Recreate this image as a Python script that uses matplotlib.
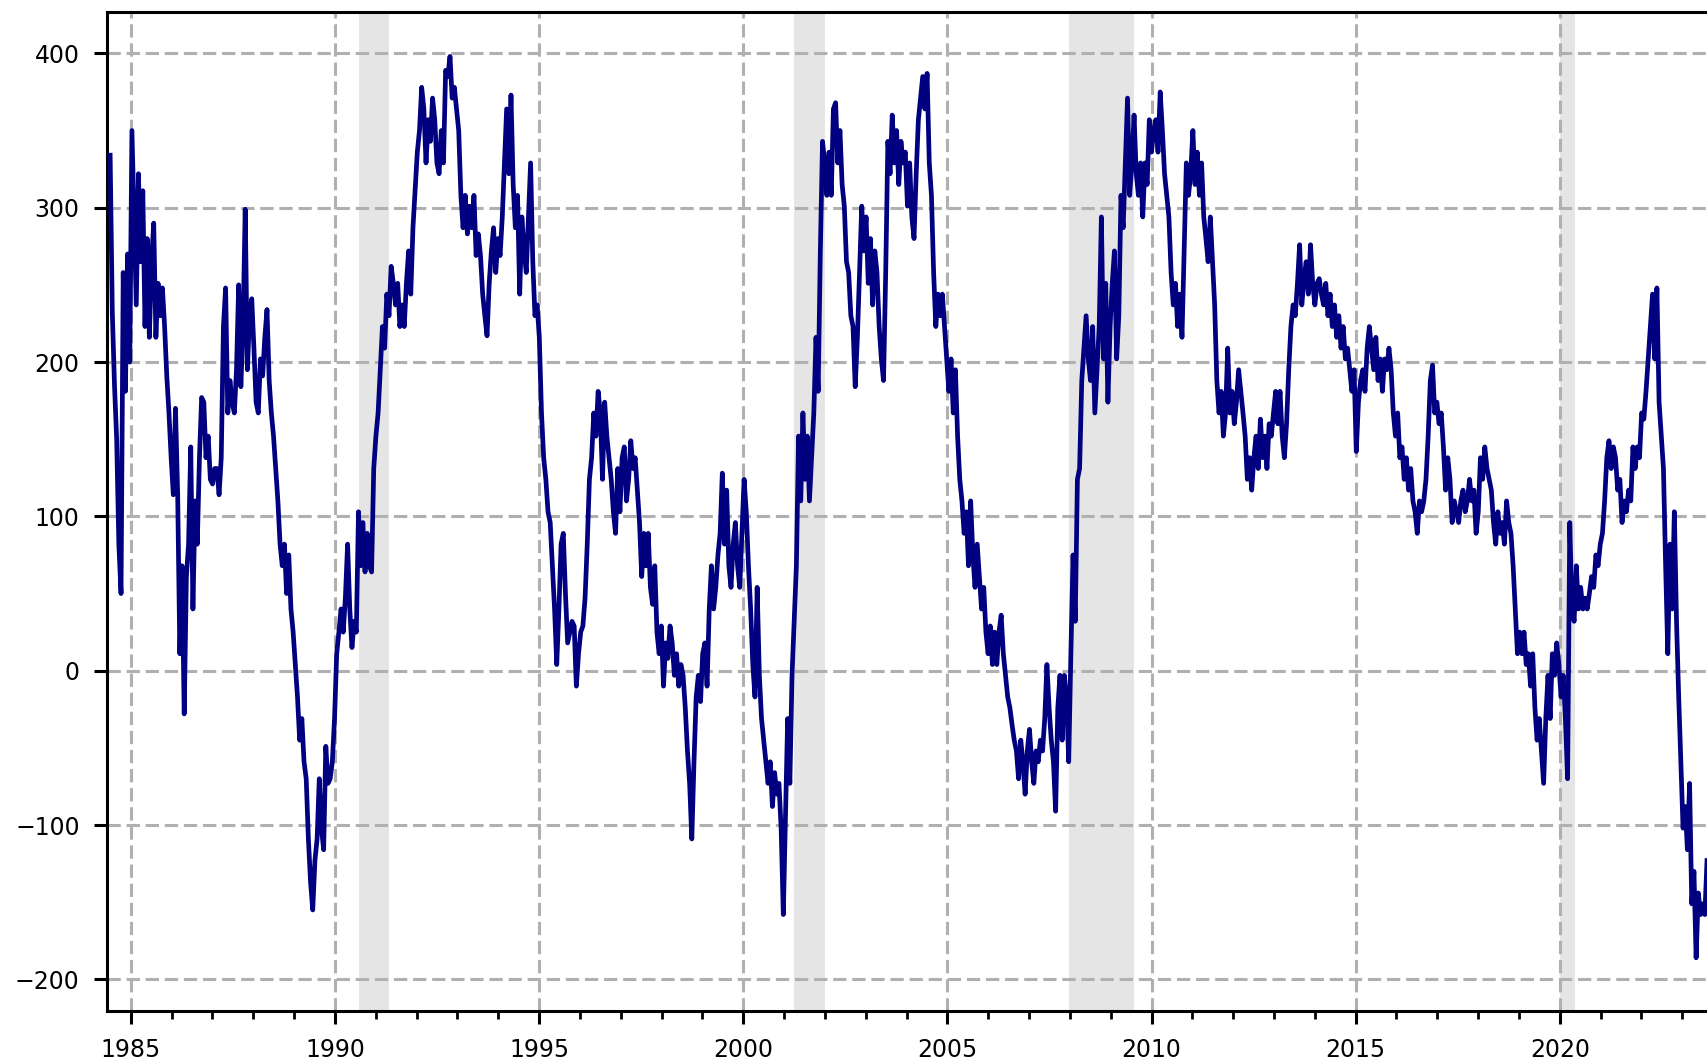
import numpy as np
import matplotlib
matplotlib.use("Agg")
import matplotlib.pyplot as plt
from matplotlib.ticker import MultipleLocator

# spread in basis points, every ~0.053 years
start_year = 1984.493
step_years = 0.05336
spread = [
    334, 232, 185, 150, 82, 50, 258, 181, 270, 200, 350, 294, 237, 322, 265, 311,
    223, 280, 216, 265, 290, 216, 251, 230, 248, 223, 191, 167, 138, 114, 170, 114,
    11, 68, -28, 61, 82, 145, 40, 110, 82, 138, 177,
    174, 138, 152, 124, 121, 131, 131, 114, 138, 223, 248, 167, 188, 174, 167, 195,
    250, 184, 223, 299, 195, 230, 241, 209, 174, 167, 202, 191, 216, 234, 188, 167,
    152, 131, 110, 82, 68, 82, 50, 75, 40, 25, 4, -17, -45, -31, -59, -70,
    -109, -137, -155, -123, -109, -70, -102, -116, -49, -73, -70, -59, -31, 11, 25, 40,
    25, 48, 82, 40, 15, 32, 25, 103, 68, 96, 64, 89, 68, 64, 131, 152,
    167, 195, 223, 209, 244, 230, 262, 251, 237, 251, 223, 237, 223, 251, 272, 244,
    287, 311, 336, 350, 378, 364, 329, 357, 343, 371, 357, 329, 322, 350, 329, 389,
    385, 398, 371, 378, 364, 350, 308, 287, 308, 283, 301, 287, 308, 269, 283, 269,
    244, 230, 217, 251, 272, 287, 258, 280, 269, 294, 329, 364, 322, 373, 315, 287,
    308, 244, 294, 272, 258, 294, 329, 265, 230, 237, 216, 167, 138, 124, 103, 96,
    68, 40, 4, 40, 82, 89, 50, 18, 25, 32, 29, -10, 11, 25, 29, 47,
    82, 124, 138, 167, 152, 181, 167, 124, 174, 152, 138, 124, 103, 89, 131, 103,
    138, 145, 110, 124, 149, 131, 138, 117, 96, 61, 89, 68, 89, 54, 43, 68,
    25, 11, 29, -10, 18, 8, 29, 18, -3, 11, -10, 4, -3, -24, -52, -73,
    -109, -59, -17, -3, -20, 11, 18, -10, 40, 68, 40, 54, 75, 89, 128, 82,
    117, 68, 54, 82, 96, 68, 54, 89, 124, 103, 68, 40, 4, -17, 54, -3,
    -31, -45, -59, -73, -59, -88, -66, -80, -73, -102, -158, -95, -31, -73, -3, 32,
    68, 152, 110, 167, 124, 152, 110, 138, 167, 216, 181, 272, 343, 329, 308, 336,
    308, 364, 368, 329, 350, 315, 301, 265, 258, 230, 223, 184, 216, 258, 301, 272,
    294, 251, 280, 237, 272, 258, 223, 202, 188, 258, 343, 322, 360, 329, 350, 315,
    343, 329, 336, 301, 329, 294, 280, 322, 357, 371, 385, 364, 387, 329, 308, 258,
    223, 244, 230, 244, 223, 202, 181, 202, 167, 195, 152, 124, 110, 89, 103, 68,
    110, 75, 54, 82, 61, 40, 54, 25, 11, 29, 4, 25, 4, 25, 36, 11,
    -3, -17, -24, -35, -45, -52, -70, -45, -59, -80, -52, -38, -59, -73, -52, -59,
    -45, -52, -31, 4, -24, -45, -59, -91, -24, -3, -45, -3, -17, -59, 11, 75,
    32, 124, 131, 188, 209, 230, 202, 188, 223, 167, 195, 223, 294, 202, 251, 174,
    223, 251, 272, 202, 230, 308, 287, 329, 371, 308, 329, 360, 322, 308, 329, 294,
    329, 315, 357, 336, 350, 357, 336, 375, 350, 322, 308, 294, 258, 237, 251, 223,
    244, 216, 272, 329, 308, 322, 350, 315, 336, 308, 329, 294, 280, 265, 294, 265,
    237, 188, 167, 181, 152, 167, 209, 167, 181, 160, 174, 195, 181, 167, 152, 124,
    138, 117, 138, 152, 131, 163, 138, 152, 131, 160, 152, 167, 181, 160, 181, 152,
    138, 160, 195, 223, 237, 230, 251, 276, 237, 254, 265, 244, 276, 251, 237, 251,
    254, 244, 237, 251, 230, 244, 223, 237, 216, 230, 209, 223, 202, 209, 195, 181,
    195, 142, 174, 188, 195, 181, 209, 223, 209, 195, 216, 188, 202, 181, 202, 195,
    209, 195, 167, 152, 167, 138, 145, 124, 138, 117, 131, 110, 103, 89, 110, 103,
    110, 124, 152, 188, 198, 167, 174, 160, 167, 145, 117, 138, 124, 96, 110, 103,
    96, 110, 117, 103, 110, 124, 110, 117, 89, 103, 138, 124, 145, 131, 124, 117,
    96, 82, 103, 89, 96, 82, 110, 96, 89, 68, 40, 11, 25, 11, 25, 4,
    11, -10, 11, -24, -45, -31, -52, -73, -31, -3, -31, 11, -3, 18, 4, -17,
    -3, -31, -70, 96, 40, 32, 68, 40, 54, 40, 47, 40, 50, 61, 54, 75,
    68, 82, 89, 110, 138, 149, 131, 145, 138, 117, 124, 96, 110, 103, 117, 110,
    145, 131, 145, 138, 167, 163, 181, 202, 223, 244, 202, 248, 174, 152, 131, 68,
    11, 82, 40, 103, 32, -17, -59, -102, -88, -116, -73, -151, -130, -186, -144, -158,
    -151, -158, -123,
]

# recessions (shaded)
rec_start = [1990.58, 2001.25, 2007.97, 2020.0]
rec_end = [1991.32, 2002.0, 2009.57, 2020.38]

years = start_year + step_years * np.arange(len(spread))

fig = plt.figure(figsize=(17.08, 10.62), dpi=100)
ax = fig.add_axes([0.0625, 0.048, 0.9375, 0.9407])

for a, b in zip(rec_start, rec_end):
    ax.axvspan(a, b, color="#e5e5e5", lw=0, zorder=0)

ax.plot(years, spread, color="#000080", lw=3.4, zorder=3)

ax.set_xlim(1984.41, 2023.63)
ax.set_ylim(-220.5, 426.8)
ax.xaxis.set_major_locator(MultipleLocator(5))
ax.xaxis.set_minor_locator(MultipleLocator(1))
ax.yaxis.set_major_locator(MultipleLocator(100))

ax.grid(True, which="major", ls=(0, (4.35, 1.9)), color="#b0b0b0", lw=2.2, zorder=1)

ax.tick_params(axis="both", which="major", labelsize=17, length=9.5, width=2.2, pad=10)
ax.tick_params(axis="x", which="minor", length=5.5, width=2)
for side in ["left", "top", "bottom"]:
    ax.spines[side].set_linewidth(2.2)
ax.spines["right"].set_visible(False)

fig.savefig("out.png", dpi=100)
